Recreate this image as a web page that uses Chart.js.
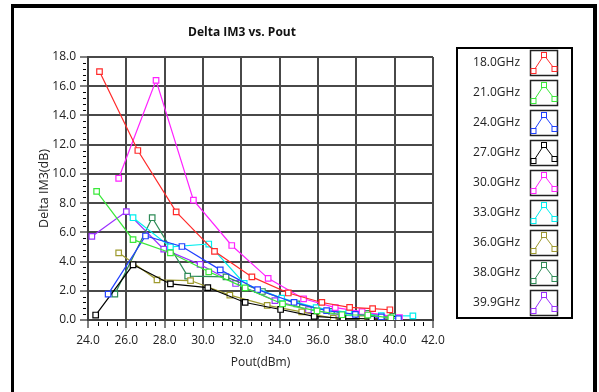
<!DOCTYPE html>
<html>
<head>
<meta charset="utf-8">
<script src="https://cdn.jsdelivr.net/npm/chart.js@4"></script>
<style>
  html, body { margin: 0; padding: 0; background: #fff; }
  #wrap { width: 599px; height: 392px; position: relative; }
</style>
</head>
<body>
<div id="wrap"><canvas id="myChart" width="599" height="392"></canvas></div>
<script>
// series labels and colours
const freqs = ['18.0GHz', '21.0GHz', '24.0GHz', '27.0GHz', '30.0GHz', '33.0GHz', '36.0GHz', '38.0GHz', '39.9GHz'];
const colors = ['#ff2a2a', '#3ae83a', '#2040ff', '#000000', '#ff22ff', '#00eeee', '#9e9a2e', '#2e8b57', '#9b30ff'];

// Pout (dBm) / Delta IM3 (dB) per frequency
const pout18 = [24.6, 26.6, 28.6, 30.6, 32.55, 34.45, 36.2, 37.65, 38.85, 39.75];
const im3_18 = [17.0, 11.6, 7.4, 4.7, 2.95, 1.85, 1.2, 0.86, 0.78, 0.7];
const pout21 = [24.45, 26.35, 28.3, 30.3, 32.2, 34.15, 35.95, 37.25, 38.6, 39.8];
const im3_21 = [8.8, 5.5, 4.6, 3.3, 2.2, 1.1, 0.62, 0.36, 0.34, 0.15];
const pout24 = [25.05, 27.0, 28.9, 30.9, 32.85, 34.75, 36.45, 37.95, 39.3, 40.2];
const im3_24 = [1.77, 5.75, 5.03, 3.43, 2.08, 1.2, 0.64, 0.39, 0.22, 0.1];
const pout27 = [24.4, 26.35, 28.3, 30.25, 32.2, 34.05, 35.8, 37.3, 38.8, 40.0];
const im3_27 = [0.34, 3.78, 2.47, 2.22, 1.2, 0.72, 0.25, 0.12, 0.08, 0.05];
const pout30 = [25.6, 27.55, 29.5, 31.5, 33.4, 35.25, 36.9, 38.3, 40.25];
const im3_30 = [9.7, 16.4, 8.2, 5.1, 2.85, 1.45, 0.85, 0.57, 0.16];
const pout33 = [26.35, 28.3, 30.3, 32.15, 34.1, 35.9, 37.6, 39.3, 40.95];
const im3_33 = [7.0, 5.0, 5.2, 2.5, 1.5, 0.85, 0.5, 0.3, 0.28];
const pout36 = [25.6, 27.6, 29.35, 31.4, 33.35, 35.15, 36.8, 38.3, 39.6];
const im3_36 = [4.6, 2.75, 2.7, 1.7, 1.0, 0.55, 0.12, 0.1, 0.05];
const pout38 = [25.4, 27.35, 29.2, 31.2, 33.1, 34.9, 36.7, 38.55, 39.9];
const im3_38 = [1.77, 7.0, 3.0, 2.95, 1.95, 1.1, 0.6, 0.45, 0.25];
const pout399 = [24.2, 26.0, 27.95, 29.85, 31.7, 33.75, 35.5, 37.2, 38.8, 40.1];
const im3_399 = [5.72, 7.42, 4.85, 3.8, 2.5, 1.33, 0.7, 0.35, 0.2, 0.1];

const xs = [pout18, pout21, pout24, pout27, pout30, pout33, pout36, pout38, pout399];
const ys = [im3_18, im3_21, im3_24, im3_27, im3_30, im3_33, im3_36, im3_38, im3_399];

const FONT = "'Open Sans', 'DejaVu Sans', sans-serif";

function pts(x, y) {
    return x.map((v, i) => ({ x: v, y: y[i] }));
}

const datasets = freqs.map((f, i) => ({
    label: f,
    data: pts(xs[i], ys[i]),
    borderColor: colors[i],
    backgroundColor: '#ffffff',
    borderWidth: 1.2,
    pointStyle: 'rect',
    pointRadius: 3.9,
    pointBorderWidth: 1.2,
    pointBorderColor: colors[i],
    pointBackgroundColor: '#ffffff',
    showLine: true,
    tension: 0
}));

// frame, title, minor ticks and the boxed legend
const decor = {
    id: 'decor',
    beforeDraw(chart) {
        const c = chart.ctx;
        c.save();
        c.fillStyle = '#fff';
        c.fillRect(0, 0, chart.width, chart.height);
        c.fillStyle = '#000';
        c.fillRect(11, 4, 3, chart.height);
        c.fillRect(11, 4, 586, 4);
        c.fillRect(593, 4, 4, chart.height);
        c.restore();
    },
    afterDraw(chart) {
        const c = chart.ctx;
        const xa = chart.scales.x, ya = chart.scales.y;
        const area = chart.chartArea;
        c.save();
        // title
        c.fillStyle = '#111';
        c.font = 'bold 12px ' + FONT;
        c.textAlign = 'center';
        c.textBaseline = 'middle';
        c.fillText('Delta IM3 vs. Pout', 242, 33);

        // minor ticks
        c.strokeStyle = '#000';
        c.lineWidth = 1;
        c.beginPath();
        for (let v = 0; v <= 18.001; v += 0.4) {
            if (Math.abs(v / 2 - Math.round(v / 2)) < 0.01) continue;
            const py = Math.round(ya.getPixelForValue(v)) + 0.5;
            c.moveTo(area.left - 5, py);
            c.lineTo(area.left - 2, py);
        }
        for (let v = 24; v <= 42.001; v += 0.5) {
            if (Math.abs(v / 2 - Math.round(v / 2)) < 0.01) continue;
            const px = Math.round(xa.getPixelForValue(v)) + 0.5;
            c.moveTo(px, area.bottom + 2);
            c.lineTo(px, area.bottom + 6);
        }
        c.stroke();

        // legend
        const lx = 457, ly = 48, lw = 115, rowH = 30;
        c.lineWidth = 2;
        c.strokeStyle = '#000';
        c.strokeRect(lx, ly, lw, rowH * freqs.length);
        c.font = '12px ' + FONT;
        c.textAlign = 'right';
        c.textBaseline = 'middle';
        chart.data.datasets.forEach((ds, i) => {
            const cy = ly + 15 + i * rowH;
            c.fillStyle = '#222';
            c.fillText(ds.label, 520, cy);
            // icon box
            c.lineWidth = 1.5;
            c.strokeStyle = '#222';
            c.strokeRect(530.5, cy - 12.5, 27, 25);
            const p = [[533.5, cy + 8], [544, cy - 8], [554.5, cy + 6]];
            c.strokeStyle = ds.borderColor;
            c.lineWidth = 1;
            c.beginPath();
            c.moveTo(p[0][0], p[0][1]);
            c.lineTo(p[1][0], p[1][1]);
            c.lineTo(p[2][0], p[2][1]);
            c.stroke();
            p.forEach(q => {
                c.fillStyle = '#fff';
                c.fillRect(q[0] - 2.5, q[1] - 2.5, 5, 5);
                c.strokeRect(q[0] - 2.5, q[1] - 2.5, 5, 5);
            });
        });
        c.restore();
    }
};

const ctx = document.getElementById('myChart');
var mychart = new Chart(ctx, {
    type: 'scatter',
    data: { datasets: datasets },
    options: {
        responsive: false,
        animation: false,
        layout: { padding: { left: 0, top: 57, right: 166, bottom: 0 } },
        plugins: {
            legend: { display: false },
            title: { display: false },
            tooltip: { enabled: false }
        },
        scales: {
            x: {
                type: 'linear',
                min: 24,
                max: 42,
                afterFit: s => { s.height = 72; },
                ticks: {
                    stepSize: 2,
                    color: '#222',
                    font: { family: FONT, size: 12 },
                    padding: 5,
                    callback: v => v.toFixed(1)
                },
                grid: { color: '#484848', lineWidth: 2, tickLength: 8, tickColor: '#000', tickWidth: 1 },
                border: { color: '#404040', width: 2 },
                title: {
                    display: true,
                    text: 'Pout(dBm)',
                    color: '#222',
                    font: { family: FONT, size: 12 },
                    padding: { top: 0, bottom: 22 }
                }
            },
            y: {
                min: 0,
                max: 18,
                afterFit: s => { s.width = 88; },
                ticks: {
                    stepSize: 2,
                    color: '#222',
                    font: { family: FONT, size: 12 },
                    padding: 4,
                    callback: v => v.toFixed(1)
                },
                grid: { color: '#484848', lineWidth: 2, tickLength: 8, tickColor: '#000', tickWidth: 1 },
                border: { color: '#404040', width: 2 },
                title: {
                    display: true,
                    text: 'Delta IM3(dB)',
                    color: '#222',
                    font: { family: FONT, size: 12.5 },
                    padding: { top: 37, bottom: 0 }
                }
            }
        }
    },
    plugins: [decor]
});
</script>
</body>
</html>
